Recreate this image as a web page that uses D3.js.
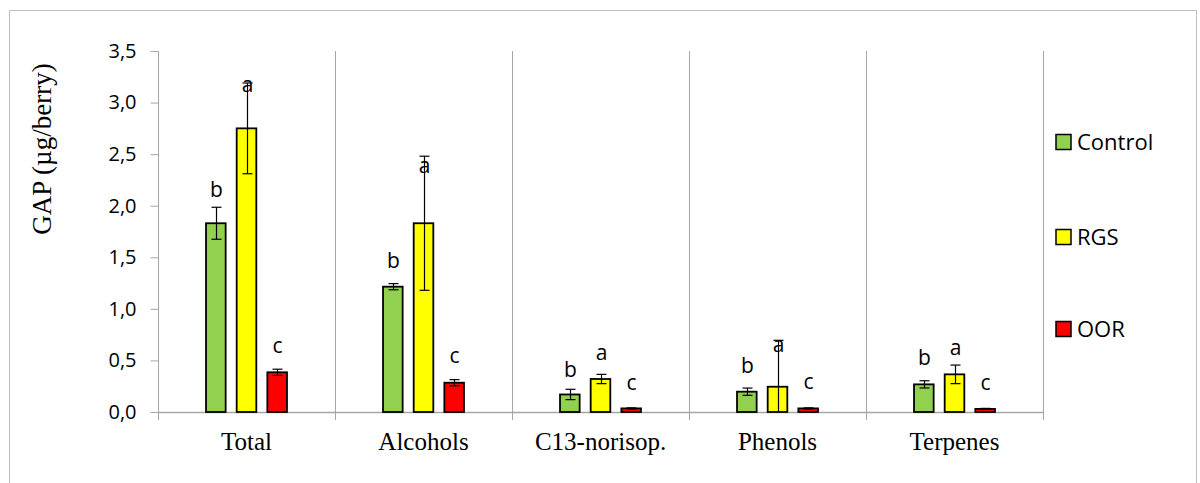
<!DOCTYPE html>
<html><head><meta charset="utf-8">
<script src="https://cdn.jsdelivr.net/npm/d3@7"></script>
<style>body{margin:0;background:#fff}svg{display:block}</style>
</head><body>
<svg id="c" width="1200" height="483"></svg>
<script>
const categories = ["Total", "Alcohols", "C13-norisop.", "Phenols", "Terpenes"];
const seriesNames = ["Control", "RGS", "OOR"];
const seriesColors = ["#92d050", "#ffff00", "#ff0000"];
const control = [1.83, 1.215, 0.17, 0.197, 0.268];
const controlErr = [0.155, 0.03, 0.05, 0.035, 0.035];
const rgs = [2.75, 1.83, 0.32, 0.245, 0.365];
const rgsErr = [0.44, 0.65, 0.045, 0.45, 0.09];
const oor = [0.385, 0.284, 0.035, 0.035, 0.03];
const oorErr = [0.03, 0.03, 0.005, 0.005, 0.005];
const letters = ["b", "a", "c"];
const controlLabelAt = [2.085, 1.393, 0.342, 0.381, 0.456];
const rgsLabelAt = [3.10, 2.317, 0.504, 0.585, 0.553];
const oorLabelAt = [0.572, 0.472, 0.213, 0.22, 0.213];
const yTicks = [0, 0.5, 1.0, 1.5, 2.0, 2.5, 3.0, 3.5];
const yTitle = "GAP (µg/berry)";

const values = [control, rgs, oor];
const errs = [controlErr, rgsErr, oorErr];
const labelAt = [controlLabelAt, rgsLabelAt, oorLabelAt];

const svg = d3.select("#c");
const L = 158, R = 1043, T = 51, B = 412;
const sans = "'Open Sans', sans-serif", serif = "'Liberation Serif', 'Times New Roman', serif";
const axisGray = "#a6a6a6";

// outer border
svg.append("rect").attr("x", 9.5).attr("y", 10.5).attr("width", 1187).attr("height", 500)
  .attr("fill", "none").attr("stroke", "#bfbfbf").attr("stroke-width", 1);

const x = d3.scaleBand().domain(categories).range([L, R]).padding(0);
const bw = x.bandwidth();
const xs = d3.scaleBand().domain(seriesNames).range([bw / 2 - 46, bw / 2 + 46]).paddingInner(0.36).paddingOuter(0.18);
const y = d3.scaleLinear().domain([0, 3.5]).range([B, T]);

// vertical category separators (gridlines incl. ticks)
const seps = categories.map(c => x(c)).concat([R]);
svg.append("g").selectAll("line").data(seps).join("line")
  .attr("x1", d => Math.round(d) + 0.5).attr("x2", d => Math.round(d) + 0.5)
  .attr("y1", T).attr("y2", B + 8).attr("stroke", axisGray).attr("stroke-width", 1);

// y axis
const yAxis = d3.axisLeft(y).tickValues(yTicks).tickSize(8).tickPadding(14)
  .tickFormat(d => d3.format(".1f")(d).replace(".", ","));
const gy = svg.append("g").attr("transform", `translate(${L + 0.5},0)`).call(yAxis);
gy.select(".domain").remove();
gy.selectAll(".tick line").attr("stroke", axisGray);
gy.selectAll(".tick text").attr("font-family", sans).attr("font-size", 20).attr("fill", "#000");

// x axis baseline
svg.append("line").attr("x1", L).attr("x2", R).attr("y1", B + 0.5).attr("y2", B + 0.5)
  .attr("stroke", axisGray).attr("stroke-width", 1.5);

// category labels
const xAxis = d3.axisBottom(x).tickSize(0).tickPadding(20);
const gx = svg.append("g").attr("transform", `translate(0,${B})`).call(xAxis);
gx.select(".domain").remove();
gx.selectAll(".tick text").attr("font-family", serif).attr("font-size", 25).attr("fill", "#000");

// bars
seriesNames.forEach((s, si) => {
  const g = svg.append("g");
  g.selectAll("rect").data(categories).join("rect")
    .attr("x", c => x(c) + xs(s)).attr("width", xs.bandwidth())
    .attr("y", (c, i) => y(values[si][i])).attr("height", (c, i) => y(0) - y(values[si][i]))
    .attr("fill", seriesColors[si]).attr("stroke", "#000").attr("stroke-width", 1.8);
  // error bars
  categories.forEach((c, i) => {
    const cx = Math.round(x(c) + xs(s) + xs.bandwidth() / 2) + 0.5;
    const hi = values[si][i] + errs[si][i];
    const lo = Math.max(0, values[si][i] - errs[si][i]);
    g.append("line").attr("x1", cx).attr("x2", cx).attr("y1", y(hi)).attr("y2", y(lo))
      .attr("stroke", "#000").attr("stroke-width", 1.2);
    g.append("line").attr("x1", cx - 5).attr("x2", cx + 5).attr("y1", y(hi)).attr("y2", y(hi))
      .attr("stroke", "#000").attr("stroke-width", 1.2);
    if (lo > 0) g.append("line").attr("x1", cx - 5).attr("x2", cx + 5).attr("y1", y(lo)).attr("y2", y(lo))
      .attr("stroke", "#000").attr("stroke-width", 1.2);
    g.append("text").attr("x", cx).attr("y", y(labelAt[si][i])).attr("text-anchor", "middle")
      .attr("font-family", sans).attr("font-size", 21).attr("fill", "#000").text(letters[si]);
  });
});

// y title
svg.append("text").attr("transform", "translate(51,149) rotate(-90)").attr("text-anchor", "middle")
  .attr("font-family", serif).attr("font-size", 27).attr("fill", "#000").text(yTitle);

// legend
const legY = [142, 237, 329];
const lg = svg.append("g");
seriesNames.forEach((s, si) => {
  lg.append("rect").attr("x", 1056).attr("y", legY[si] - 7.5).attr("width", 15).attr("height", 15)
    .attr("fill", seriesColors[si]).attr("stroke", "#000").attr("stroke-width", 1.5);
  lg.append("text").attr("x", 1077).attr("y", legY[si]).attr("dy", "0.36em")
    .attr("font-family", sans).attr("font-size", 22).attr("fill", "#000").text(s);
});
</script>
</body></html>
